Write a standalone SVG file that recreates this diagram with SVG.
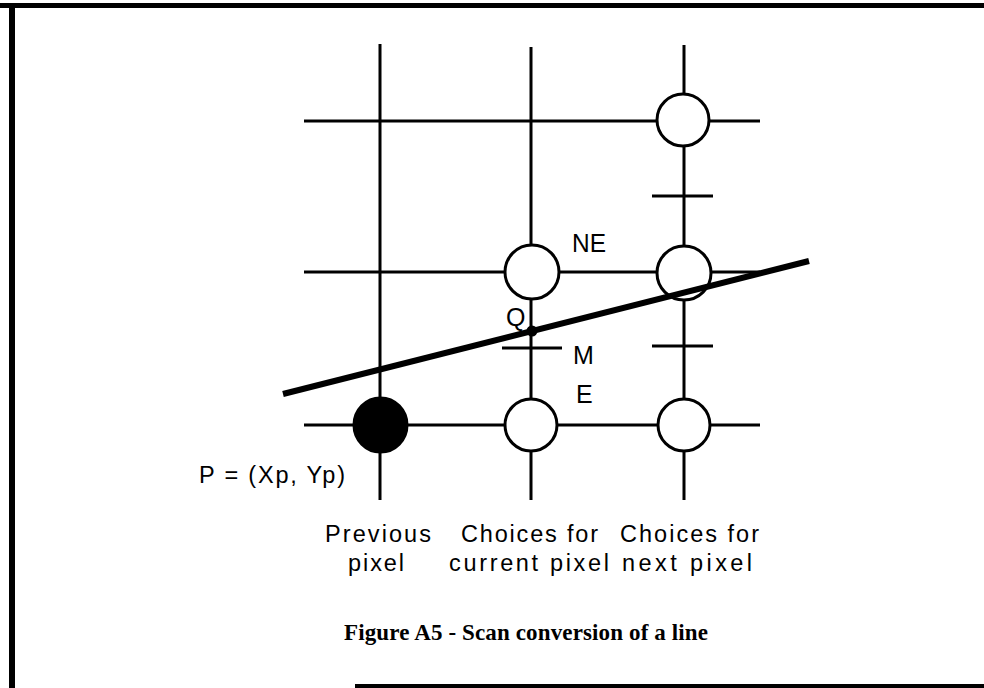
<svg xmlns="http://www.w3.org/2000/svg" width="984" height="688" viewBox="0 0 984 688">
<style>
.ln{stroke:#000;stroke-width:3;fill:none;stroke-linecap:butt}
.px{fill:#fff;stroke:#000;stroke-width:3}
.pf{fill:#000;stroke:#000;stroke-width:2}
.lb{font-family:"Liberation Sans",Arial,sans-serif;font-size:25px;fill:#000}
.cap{font-family:"Liberation Sans",Arial,sans-serif;font-size:23.5px;fill:#000}
.ttl{font-family:"Liberation Serif","Times New Roman",serif;font-size:23px;font-weight:bold;fill:#000}
</style>
<rect width="984" height="688" fill="#fff"/>
<g id="frame" fill="#000">
<rect x="0" y="3" width="984" height="5"/>
<rect x="9" y="3" width="6" height="685"/>
<rect x="355" y="684" width="629" height="4"/>
</g>
<g id="connectors" class="ln">
<line x1="380" y1="44" x2="380" y2="500"/>
<line x1="531" y1="47" x2="531" y2="500"/>
<line x1="684" y1="45" x2="684" y2="500"/>
<line x1="304" y1="121" x2="760" y2="121"/>
<line x1="304" y1="272" x2="760" y2="272"/>
<line x1="304" y1="425" x2="760" y2="425"/>
<line x1="502" y1="348" x2="562" y2="348"/>
<line x1="652" y1="196" x2="713" y2="196"/>
<line x1="652" y1="346" x2="713" y2="346"/>
</g>
<g id="pixel-prev"><ellipse class="pf" cx="380.5" cy="425" rx="27" ry="27.5"/></g>
<g id="pixel-E"><circle class="px" cx="531" cy="425" r="26"/></g>
<g id="pixel-NE"><circle class="px" cx="532" cy="272" r="27"/></g>
<g id="pixel-next-E"><circle class="px" cx="684" cy="425" r="26"/></g>
<g id="pixel-next-NE"><circle class="px" cx="684" cy="273" r="27"/></g>
<g id="pixel-next-NNE"><circle class="px" cx="683" cy="120" r="26"/></g>
<g id="line"><line x1="283" y1="394" x2="809" y2="261" stroke="#000" stroke-width="6"/></g>
<g id="point-Q"><circle cx="532" cy="331" r="5.5" fill="#000"/></g>
<g id="labels">
<text class="lb" x="572" y="252" textLength="34" lengthAdjust="spacingAndGlyphs">NE</text>
<text class="lb" x="506" y="326">Q</text>
<text class="lb" x="573" y="364">M</text>
<text class="lb" x="576" y="403">E</text>
<text class="cap" x="199" y="483" textLength="146" lengthAdjust="spacing">P = (Xp, Yp)</text>
<text class="cap" x="325" y="542" textLength="106" lengthAdjust="spacing">Previous</text>
<text class="cap" x="348" y="571" textLength="56" lengthAdjust="spacing">pixel</text>
<text class="cap" x="461" y="542" textLength="137" lengthAdjust="spacing">Choices for</text>
<text class="cap" x="449" y="571" textLength="160" lengthAdjust="spacing">current pixel</text>
<text class="cap" x="620" y="542" textLength="139" lengthAdjust="spacing">Choices for</text>
<text class="cap" x="622" y="571" textLength="130" lengthAdjust="spacing">next pixel</text>
</g>
<text id="title" class="ttl" x="344" y="640" textLength="364" lengthAdjust="spacing">Figure A5 - Scan conversion of a line</text>
</svg>
